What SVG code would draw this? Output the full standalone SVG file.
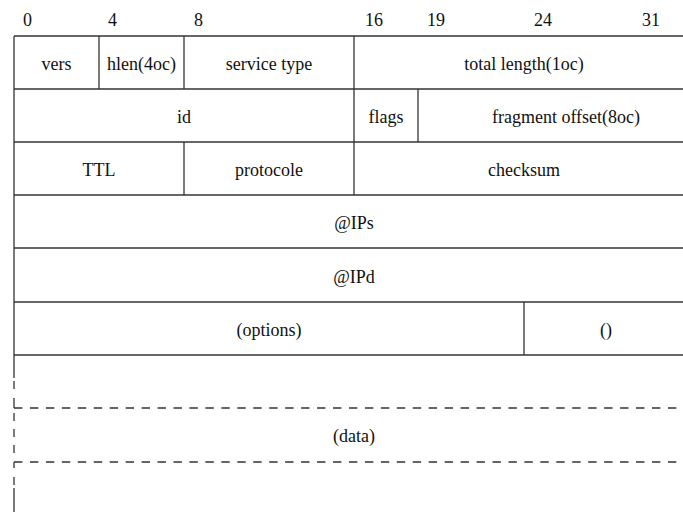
<svg xmlns="http://www.w3.org/2000/svg" width="683" height="512" viewBox="0 0 683 512">
<style>
.t{font-family:'Liberation Serif',serif;font-size:18px;fill:#111;text-anchor:middle}
.bit{text-anchor:start}
.ln{stroke:#333;stroke-width:1.3;fill:none}
.dl{stroke:#333;stroke-width:1.3;fill:none;stroke-dasharray:8.4 7.55}
</style>
<rect width="683" height="512" fill="#fff"/>
<g id="bits" font-family="Liberation Serif, serif">
<text class="t bit" x="23" y="26">0</text>
<text class="t bit" x="108" y="26">4</text>
<text class="t bit" x="194" y="26">8</text>
<text class="t bit" x="365" y="26">16</text>
<text class="t bit" x="427" y="26">19</text>
<text class="t bit" x="534" y="26">24</text>
<text class="t bit" x="642" y="26">31</text>
</g>
<g id="grid">
<line class="ln" x1="14" y1="36" x2="694" y2="36"/>
<line class="ln" x1="14" y1="89" x2="694" y2="89"/>
<line class="ln" x1="14" y1="142" x2="694" y2="142"/>
<line class="ln" x1="14" y1="195" x2="694" y2="195"/>
<line class="ln" x1="14" y1="248" x2="694" y2="248"/>
<line class="ln" x1="14" y1="302" x2="694" y2="302"/>
<line class="ln" x1="14" y1="355" x2="694" y2="355"/>
<line class="ln" x1="99" y1="36" x2="99" y2="89"/>
<line class="ln" x1="184" y1="36" x2="184" y2="89"/>
<line class="ln" x1="354" y1="36" x2="354" y2="195"/>
<line class="ln" x1="418" y1="89" x2="418" y2="142"/>
<line class="ln" x1="184" y1="142" x2="184" y2="195"/>
<line class="ln" x1="524" y1="302" x2="524" y2="355"/>
<line class="ln" x1="14" y1="36" x2="14" y2="378"/>
<line class="ln" x1="14" y1="381" x2="14" y2="389"/>
<line class="ln" x1="14" y1="398" x2="14" y2="408"/>
<line class="ln" x1="14" y1="413" x2="14" y2="421"/>
<line class="ln" x1="14" y1="429" x2="14" y2="437"/>
<line class="ln" x1="14" y1="445" x2="14" y2="453"/>
<line class="ln" x1="14" y1="462" x2="14" y2="468"/>
<line class="ln" x1="14" y1="477" x2="14" y2="485"/>
<line class="ln" x1="14" y1="488" x2="14" y2="512"/>
<line class="dl" x1="14" y1="408" x2="677" y2="408"/>
<line class="dl" x1="14" y1="462" x2="677" y2="462"/>
</g>
<g id="fields" font-family="Liberation Serif, serif">
<g id="vers"><text class="t" x="56.5" y="69.5">vers</text></g>
<g id="hlen"><text class="t" x="141.5" y="69.5">hlen(4oc)</text></g>
<g id="service-type"><text class="t" x="269" y="69.5">service type</text></g>
<g id="total-length"><text class="t" x="524" y="69.5">total length(1oc)</text></g>
<g id="id"><text class="t" x="184" y="122.5">id</text></g>
<g id="flags"><text class="t" x="386" y="122.5">flags</text></g>
<g id="fragment-offset"><text class="t" x="566" y="122.5">fragment offset(8oc)</text></g>
<g id="ttl"><text class="t" x="99" y="175.5">TTL</text></g>
<g id="protocole"><text class="t" x="269" y="175.5">protocole</text></g>
<g id="checksum"><text class="t" x="524" y="175.5">checksum</text></g>
<g id="ips"><text class="t" x="354" y="229">@IPs</text></g>
<g id="ipd"><text class="t" x="354" y="283">@IPd</text></g>
<g id="options"><text class="t" x="269" y="335.5">(options)</text></g>
<g id="padding"><text class="t" x="606" y="335.5">()</text></g>
<g id="data"><text class="t" x="354" y="442">(data)</text></g>
</g>
</svg>
